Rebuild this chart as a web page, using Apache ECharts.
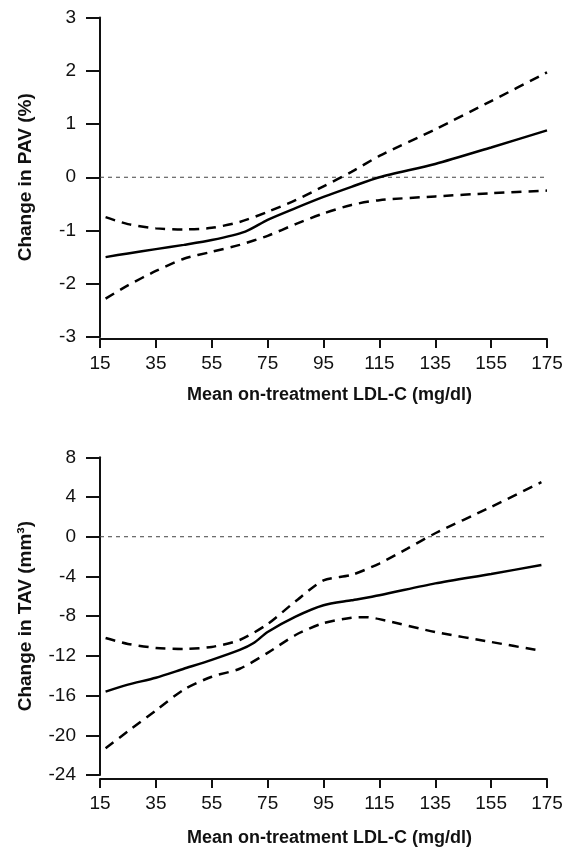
<!DOCTYPE html>
<html>
<head>
<meta charset="utf-8">
<script src="https://cdn.jsdelivr.net/npm/echarts@6/dist/echarts.min.js"></script>
<style>
	html, body { margin: 0; padding: 0; background: #fff; }
	#chart { width: 566px; height: 852px; }
</style>
</head>
<body>
<div id="chart"></div>
<script>
// x positions (mean on-treatment LDL-C, mg/dl)
var pavX = [17, 25, 35, 45, 55, 67, 75, 85, 95, 105, 115, 135, 155, 175];
var pavMean = [-1.5, -1.43, -1.35, -1.27, -1.18, -1.02, -0.8, -0.58, -0.37, -0.18, 0, 0.25, 0.56, 0.88];

var pavUpperX = [17, 25, 35, 45, 55, 65, 75, 85, 95, 105, 115, 135, 155, 175];
var pavUpper = [-0.75, -0.88, -0.96, -0.98, -0.95, -0.84, -0.65, -0.43, -0.17, 0.1, 0.4, 0.9, 1.43, 1.97];

var pavLowerX = [17, 25, 35, 45, 55, 65, 75, 85, 95, 105, 115, 135, 155, 175];
var pavLower = [-2.28, -2.03, -1.76, -1.53, -1.4, -1.27, -1.1, -0.88, -0.68, -0.52, -0.43, -0.36, -0.3, -0.25];

var tavX = [17, 25, 35, 45, 55, 65, 70, 75, 85, 95, 105, 115, 135, 155, 173];
var tavMean = [-15.6, -14.9, -14.2, -13.3, -12.4, -11.4, -10.7, -9.6, -8.05, -6.9, -6.4, -5.9, -4.7, -3.75, -2.85];

var tavUpperX = [17, 25, 35, 45, 55, 65, 75, 85, 95, 105, 115, 125, 135, 155, 173];
var tavUpper = [-10.2, -10.8, -11.2, -11.3, -11.1, -10.4, -8.8, -6.5, -4.4, -3.85, -2.7, -1.2, 0.35, 3.0, 5.5];

var tavLowerX = [17, 25, 35, 45, 55, 65, 75, 85, 95, 105, 110, 115, 135, 155, 173];
var tavLower = [-21.3, -19.6, -17.5, -15.4, -14.1, -13.3, -11.7, -9.9, -8.7, -8.15, -8.1, -8.3, -9.6, -10.6, -11.5];

var xTicks = { min: 15, max: 175, interval: 20 };
var pavTicks = { min: -3, max: 3, interval: 1 };
var tavTicks = { min: -24, max: 8, interval: 4 };

var xTitle = 'Mean on-treatment LDL-C (mg/dl)';
var pavTitle = 'Change in PAV (%)';
var tavTitle = 'Change in TAV (mm\u00b3)';

var FONT = '"Liberation Sans", Arial, Helvetica, sans-serif';
var INK = '#111';

function zip(xs, ys) {
	return xs.map(function (x, i) { return [x, ys[i]]; });
}

function makeX(gridIndex, offset, gap) {
	return {
		type: 'value', gridIndex: gridIndex,
		min: xTicks.min, max: xTicks.max, interval: xTicks.interval,
		offset: offset,
		name: xTitle, nameLocation: 'middle', nameGap: gap,
		// title sits a little right of the axis centre in the original
		nameTextStyle: { fontFamily: FONT, fontSize: 18, fontWeight: 'bold', color: INK, padding: [0, 0, 0, 12] },
		axisLine: { onZero: false, lineStyle: { color: INK, width: 2 } },
		axisTick: { length: 9, lineStyle: { color: INK, width: 2 } },
		axisLabel: { margin: 15, fontFamily: FONT, fontSize: 19, color: INK },
		splitLine: { show: false }
	};
}

function makeY(gridIndex, ticks, title) {
	return {
		type: 'value', gridIndex: gridIndex,
		min: ticks.min, max: ticks.max, interval: ticks.interval,
		name: title, nameLocation: 'middle', nameRotate: 90, nameGap: 65,
		nameTextStyle: { fontFamily: FONT, fontSize: 19, fontWeight: 'bold', color: INK },
		axisLine: { show: true, onZero: false, lineStyle: { color: INK, width: 2 } },
		axisTick: { show: true, length: 14, lineStyle: { color: INK, width: 2 } },
		axisLabel: { margin: 24, fontFamily: FONT, fontSize: 19, color: INK },
		splitLine: { show: false }
	};
}

function curve(idx, data, dashed) {
	return {
		type: 'line', xAxisIndex: idx, yAxisIndex: idx,
		data: data, showSymbol: false, smooth: 0.25, silent: true,
		lineStyle: { color: '#000', width: 2.5, type: dashed ? [10, 7] : 'solid' },
		z: 3
	};
}

function zeroLine(idx) {
	return {
		type: 'line', xAxisIndex: idx, yAxisIndex: idx,
		data: [[xTicks.min, 0], [xTicks.max, 0]], showSymbol: false, silent: true,
		lineStyle: { color: '#444', width: 1, type: [4, 4] },
		z: 2
	};
}

var chart = echarts.init(document.getElementById('chart'), null, { renderer: 'canvas' });

chart.setOption({
	animation: false,
	backgroundColor: '#fff',
	grid: [
		{ left: 100, right: 19, top: 17.5, height: 319.5 },
		{ left: 100, right: 19, top: 457.3, height: 317.7 }
	],
	xAxis: [makeX(0, 2, 47), makeX(1, 4, 50)],
	yAxis: [makeY(0, pavTicks, pavTitle), makeY(1, tavTicks, tavTitle)],
	series: [
		zeroLine(0),
		curve(0, zip(pavX, pavMean), false),
		curve(0, zip(pavUpperX, pavUpper), true),
		curve(0, zip(pavLowerX, pavLower), true),
		zeroLine(1),
		curve(1, zip(tavX, tavMean), false),
		curve(1, zip(tavUpperX, tavUpper), true),
		curve(1, zip(tavLowerX, tavLower), true)
	]
});
</script>
</body>
</html>
